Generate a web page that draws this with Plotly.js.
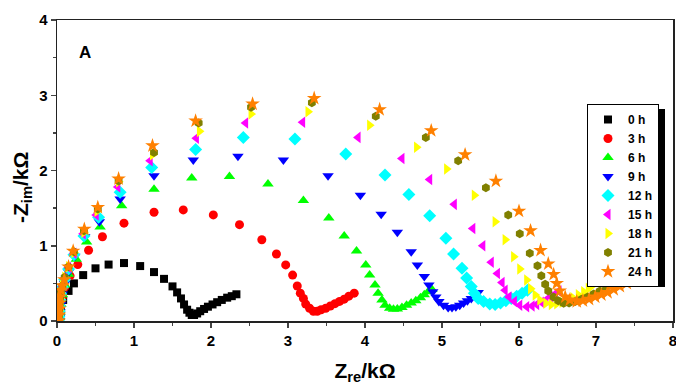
<!DOCTYPE html>
<html>
<head>
<meta charset="utf-8">
<script src="https://cdn.plot.ly/plotly-3.0.1.min.js"></script>
<style>
  html, body { margin: 0; padding: 0; background: #fff; }
  #chart { width: 676px; height: 385px; }
</style>
</head>
<body>
<div id="chart"></div>
<script>
// Nyquist plots (Z_re vs -Z_im, kΩ) recorded after different immersion times
const seriesNames = ["0 h", "3 h", "6 h", "9 h", "12 h", "15 h", "18 h", "21 h", "24 h"];

const zre0h = [0.03,0.035,0.04,0.05,0.08,0.15,0.22,0.34,0.50,0.67, 0.87,1.08,1.26,1.39,1.50,1.56,1.61,1.65,1.69,1.72, 1.75,1.78,1.82,1.86,1.91,1.96,2.02,2.08,2.14,2.21, 2.27,2.33];
const zim0h = [0.0,0.03,0.08,0.16,0.28,0.40,0.50,0.61,0.70,0.75, 0.77,0.73,0.65,0.56,0.46,0.38,0.30,0.22,0.15,0.11, 0.08,0.08,0.10,0.13,0.16,0.19,0.22,0.25,0.28,0.31, 0.33,0.355];

const zre3h = [0.03,0.035,0.04,0.05,0.07,0.10,0.17,0.27,0.41,0.59, 0.87,1.26,1.64,2.03,2.37,2.66,2.85,2.97,3.06,3.12, 3.16,3.20,3.23,3.28,3.33,3.38,3.43,3.49,3.55,3.61, 3.67,3.73,3.79,3.86];
const zim3h = [0.0,0.04,0.10,0.20,0.32,0.45,0.60,0.75,0.94,1.12, 1.30,1.445,1.476,1.41,1.28,1.08,0.89,0.745,0.61,0.465, 0.37,0.30,0.225,0.17,0.13,0.13,0.15,0.17,0.20,0.23, 0.26,0.29,0.33,0.37];

const zre6h = [0.03,0.035,0.04,0.05,0.07,0.10,0.15,0.25,0.385,0.56, 0.84,1.26,1.75,2.24,2.74,3.20,3.53,3.73,3.89,4.01, 4.06,4.13,4.17,4.22,4.26,4.32,4.37,4.42,4.48,4.54, 4.60,4.66,4.72,4.77,4.82,4.87];
const zim6h = [0.0,0.05,0.12,0.22,0.35,0.48,0.62,0.82,1.05,1.25, 1.53,1.75,1.90,1.92,1.82,1.60,1.37,1.13,0.93,0.745, 0.61,0.48,0.37,0.28,0.21,0.17,0.155,0.16,0.18,0.21, 0.24,0.27,0.31,0.35,0.39,0.42];

const zre9h = [0.03,0.035,0.04,0.05,0.07,0.10,0.15,0.23,0.36,0.55, 0.82,1.26,1.77,2.35,2.94,3.52,3.94,4.21,4.42,4.60, 4.68,4.77,4.83,4.88,4.92,4.96,5.02,5.08,5.13,5.18, 5.23,5.28,5.33,5.38,5.43,5.47];
const zim9h = [0.0,0.05,0.12,0.22,0.36,0.50,0.65,0.86,1.12,1.32, 1.62,1.93,2.14,2.19,2.14,1.93,1.67,1.42,1.18,0.92, 0.745,0.59,0.48,0.39,0.32,0.26,0.21,0.18,0.18,0.19, 0.21,0.24,0.27,0.30,0.34,0.38];

const zre12h = [0.02,0.025,0.03,0.035,0.04,0.05,0.07,0.10,0.15,0.22, 0.35,0.54,0.82,1.23,1.80,2.42,3.09,3.75,4.26,4.57, 4.84,5.05,5.15,5.26,5.32,5.38,5.42,5.47,5.54,5.62, 5.69,5.76,5.83,5.90,5.97,6.04,6.11];
const zim12h = [0.0,0.06,0.13,0.20,0.28,0.36,0.45,0.55,0.69,0.88, 1.13,1.38,1.71,2.04,2.28,2.44,2.42,2.22,1.94,1.68, 1.40,1.10,0.89,0.70,0.57,0.46,0.37,0.30,0.26,0.225, 0.22,0.24,0.27,0.30,0.33,0.37,0.41];

const zre15h = [0.02,0.025,0.03,0.035,0.04,0.05,0.07,0.10,0.15,0.22, 0.34,0.51,0.79,1.21,1.81,2.45,3.19,3.91,4.48,4.84, 5.16,5.40,5.53,5.64,5.72,5.78,5.82,5.87,5.94,6.01, 6.10,6.17,6.23,6.29,6.35,6.41,6.47,6.52];
const zim15h = [0.0,0.06,0.13,0.21,0.29,0.37,0.46,0.57,0.71,0.90, 1.16,1.41,1.78,2.13,2.43,2.63,2.64,2.44,2.16,1.88, 1.55,1.23,1.0,0.78,0.63,0.51,0.41,0.32,0.26,0.21, 0.19,0.20,0.22,0.25,0.28,0.32,0.36,0.40];

const zre18h = [0.02,0.025,0.03,0.035,0.04,0.05,0.07,0.10,0.15,0.22, 0.35,0.52,0.80,1.24,1.85,2.52,3.26,4.06,4.67,5.06, 5.42,5.69,5.82,5.93,6.01,6.10,6.15,6.21,6.27,6.35, 6.42,6.49,6.56,6.63,6.70,6.77,6.84,6.90,6.95];
const zim18h = [0.0,0.07,0.14,0.22,0.30,0.38,0.47,0.58,0.72,0.91, 1.18,1.46,1.85,2.21,2.52,2.75,2.78,2.60,2.31,2.02, 1.67,1.32,1.08,0.855,0.69,0.545,0.43,0.345,0.28,0.235, 0.22,0.23,0.25,0.28,0.31,0.35,0.39,0.43,0.47];

const zre21h = [0.02,0.025,0.03,0.035,0.04,0.05,0.07,0.10,0.15,0.22, 0.35,0.53,0.80,1.26,1.84,2.52,3.31,4.14,4.79,5.21, 5.57,5.86,6.01,6.14,6.24,6.29,6.34,6.38,6.45,6.51, 6.58,6.65,6.73,6.81,6.89,6.97,7.05,7.13,7.22];
const zim21h = [0.0,0.07,0.15,0.23,0.31,0.39,0.47,0.58,0.72,0.92, 1.20,1.49,1.86,2.24,2.63,2.84,2.90,2.72,2.44,2.13, 1.77,1.41,1.16,0.90,0.735,0.60,0.49,0.40,0.32,0.27, 0.235,0.24,0.26,0.29,0.32,0.36,0.40,0.45,0.50];

const zre24h = [0.02,0.025,0.03,0.035,0.04,0.05,0.07,0.095,0.15,0.21, 0.355,0.53,0.80,1.24,1.80,2.54,3.34,4.19,4.86,5.30, 5.70,6.00,6.15,6.28,6.38,6.45,6.49,6.53,6.60,6.66, 6.75,6.83,6.91,6.99,7.07,7.15,7.23,7.31,7.40];
const zim24h = [0.0,0.08,0.16,0.24,0.32,0.41,0.47,0.55,0.72,0.93, 1.22,1.51,1.89,2.33,2.66,2.885,2.96,2.81,2.53,2.21, 1.86,1.46,1.20,0.94,0.76,0.62,0.50,0.40,0.32,0.28, 0.26,0.27,0.29,0.32,0.35,0.38,0.42,0.46,0.50];

const xTickVals = [0, 1, 2, 3, 4, 5, 6, 7, 8];
const yTickVals = [0, 1, 2, 3, 4];

const zreAll = [zre0h, zre3h, zre6h, zre9h, zre12h, zre15h, zre18h, zre21h, zre24h];
const zimAll = [zim0h, zim3h, zim6h, zim9h, zim12h, zim15h, zim18h, zim21h, zim24h];

// marker style for each immersion time
const styles = [
  { symbol: "square",         color: "#000000", size: 8 },
  { symbol: "circle",         color: "#ff0000", size: 9 },
  { symbol: "triangle-up",    color: "#00ff00", size: 10 },
  { symbol: "triangle-down",  color: "#0000ff", size: 10 },
  { symbol: "diamond",        color: "#00ffff", size: 10 },
  { symbol: "triangle-left",  color: "#ff00ff", size: 10 },
  { symbol: "triangle-right", color: "#ffff00", size: 10 },
  { symbol: "hexagon",        color: "#808000", size: 9 },
  { symbol: "star",           color: "#ff8000", size: 11 }
];

const traces = seriesNames.map((name, i) => ({
  type: "scatter",
  mode: "markers",
  name: name,
  x: zreAll[i],
  y: zimAll[i],
  marker: { symbol: styles[i].symbol, color: styles[i].color, size: styles[i].size, line: { width: 0 } }
}));

// pixel helpers (plot area spans 57..673 horizontally, 20..321 vertically)
const px2x = p => (p - 57) / 616;
const px2y = p => (321 - p) / 301;

const boldFont = { family: "Liberation Sans, Arial, sans-serif", color: "#000", weight: "bold" };

const layout = {
  width: 676,
  height: 385,
  margin: { l: 57, r: 3, t: 20, b: 64 },
  paper_bgcolor: "#fff",
  plot_bgcolor: "#fff",
  showlegend: true,
  xaxis: {
    range: [0, 8],
    tickvals: xTickVals,
    ticks: "outside",
    ticklen: 5,
    tickwidth: 1.5,
    minor: { ticks: "outside", dtick: 0.5, ticklen: 3, tickwidth: 1.5 },
    showline: true,
    linewidth: 1.5,
    linecolor: "#222",
    mirror: true,
    showgrid: false,
    zeroline: false,
    ticklabeloverflow: "allow",
    tickfont: Object.assign({ size: 15 }, boldFont),
    title: { text: "Z<sub>re</sub>/kΩ", font: Object.assign({ size: 21 }, boldFont), standoff: 18 }
  },
  yaxis: {
    range: [0, 4],
    tickvals: yTickVals,
    ticks: "outside",
    ticklen: 5,
    tickwidth: 1.5,
    minor: { ticks: "outside", dtick: 0.5, ticklen: 3, tickwidth: 1.5 },
    showline: true,
    linewidth: 1.5,
    linecolor: "#222",
    mirror: true,
    showgrid: false,
    zeroline: false,
    tickfont: Object.assign({ size: 15 }, boldFont)
  },
  legend: {
    x: px2x(587),
    y: px2y(104),
    xanchor: "left",
    yanchor: "top",
    bgcolor: "#fff",
    bordercolor: "#000",
    borderwidth: 1,
    font: Object.assign({ size: 12 }, boldFont),
    tracegroupgap: 0,
    itemwidth: 30
  },
  shapes: [
    // drop shadow behind the legend box
    {
      type: "rect", xref: "paper", yref: "paper",
      x0: px2x(592), x1: px2x(665), y0: px2y(287), y1: px2y(109),
      fillcolor: "#000", line: { width: 0 }, layer: "above"
    }
  ],
  annotations: [
    { text: "A", xref: "paper", yref: "paper", x: px2x(85), y: px2y(52),
      xanchor: "center", yanchor: "middle",
      showarrow: false, font: Object.assign({ size: 17 }, boldFont) },
    // vertical axis title
    { text: "-Z<sub>im</sub>/kΩ", xref: "paper", yref: "paper", x: px2x(22), y: px2y(188),
      xanchor: "center", yanchor: "middle", textangle: -90,
      showarrow: false, font: Object.assign({ size: 21 }, boldFont) }
  ]
};

Plotly.newPlot("chart", traces, layout, { displayModeBar: false, staticPlot: true });
</script>
</body>
</html>
